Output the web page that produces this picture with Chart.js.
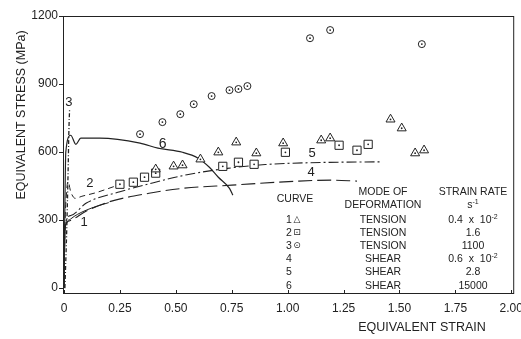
<!DOCTYPE html>
<html>
<head>
<meta charset="utf-8">
<script src="https://cdn.jsdelivr.net/npm/chart.js@4.4.1/dist/chart.umd.min.js"></script>
<style>
  html, body { margin: 0; padding: 0; background: #fff; }
  .wrap { position: relative; width: 521px; height: 339px; overflow: hidden; }
  .tbl { position: absolute; transform: translate(-50%, -50%); white-space: nowrap;
         font: 10.5px "Liberation Sans", Arial, sans-serif; color: #222; line-height: 1; }
  .tbl sup { font-size: 7px; vertical-align: 4px; }
  .sym { font-family: "DejaVu Sans", sans-serif; font-size: 9px; }
</style>
</head>
<body>
<div class="wrap">
  <canvas id="chart" width="521" height="339"></canvas>
  <div id="legend"></div>
</div>
<script>
// axis ticks
const xTicks = [0, 0.25, 0.5, 0.75, 1, 1.25, 1.5, 1.75, 2];
const yTicks = [0, 300, 600, 900, 1200];

// curve 1 markers (tension, 0.4e-2 /s)
const tri1Strain = [0.41, 0.49, 0.53, 0.61, 0.69, 0.77, 0.86, 0.98, 1.15, 1.19, 1.46, 1.51, 1.57, 1.61];
const tri1Stress = [524, 537, 542, 568, 599, 643, 595, 639, 652, 661, 744, 705, 595, 608];
// curve 2 markers (tension, 1.6 /s)
const sq2Strain = [0.25, 0.31, 0.36, 0.41, 0.71, 0.78, 0.85, 0.99, 1.23, 1.31, 1.36];
const sq2Stress = [458, 467, 489, 507, 537, 555, 546, 599, 630, 608, 634];
// curve 3 markers (tension, 1100 /s)
const circ3Strain = [0.34, 0.44, 0.52, 0.58, 0.66, 0.74, 0.78, 0.82, 1.10, 1.19, 1.60];
const circ3Stress = [679, 732, 767, 811, 847, 873, 878, 891, 1102, 1138, 1076];

// lines
const curve1Strain = [0, 0.004, 0.01, 0.03, 0.06, 0.1, 0.15, 0.2];
const curve1Stress = [0, 240, 285, 305, 325, 344, 362, 377];
const curve2Strain = [0, 0.004, 0.012, 0.018, 0.03, 0.05, 0.08, 0.14, 0.23];
const curve2Stress = [0, 260, 430, 470, 425, 396, 405, 420, 450];
const curve3Strain = [0.004, 0.012, 0.018, 0.022, 0.025];
const curve3Stress = [0, 250, 500, 700, 790];
const curve4Strain = [0, 0.004, 0.02, 0.1, 0.2, 0.38, 0.53, 0.75, 1.05, 1.2, 1.31];
const curve4Stress = [0, 260, 295, 340, 380, 418, 440, 454, 472, 476, 472];
const curve5Strain = [0, 0.004, 0.03, 0.1, 0.25, 0.4, 0.55, 0.73, 0.9, 1.1, 1.42];
const curve5Stress = [0, 270, 320, 375, 425, 465, 500, 528, 545, 553, 557];
const curve6Strain = [0, 0.008, 0.03, 0.053, 0.075, 0.16, 0.34, 0.42, 0.53, 0.6, 0.65, 0.69, 0.74, 0.755];
const curve6Stress = [0, 600, 674, 634, 661, 661, 639, 617, 599, 573, 533, 489, 440, 410];

// table rows
const rowCurve = ['1', '2', '3', '4', '5', '6'];
const rowSymbol = ['\u25B3', '\u22A1', '\u2299', '', '', ''];
const rowMode = ['TENSION', 'TENSION', 'TENSION', 'SHEAR', 'SHEAR', 'SHEAR'];
const rowRate = ['0.4 &nbsp;x &nbsp;10<sup>-2</sup>', '1.6', '1100', '0.6 &nbsp;x &nbsp;10<sup>-2</sup>', '2.8', '15000'];

const ink = '#222';
const pts = (xs, ys) => xs.map((v, i) => ({ x: v, y: ys[i] }));

function markerSet(xs, ys, style, r) {
  return {
    type: 'scatter', data: pts(xs, ys), pointStyle: style, pointRadius: r,
    pointBackgroundColor: '#fff', pointBorderColor: ink, pointBorderWidth: 1, order: 1
  };
}
function dotSet(xs, ys) {
  return {
    type: 'scatter', data: pts(xs, ys), pointStyle: 'circle', pointRadius: 0.9,
    pointBackgroundColor: ink, pointBorderWidth: 0, order: 0
  };
}
function lineSet(xs, ys, dash, w) {
  return {
    type: 'line', data: pts(xs, ys), borderColor: ink, borderWidth: w || 1,
    borderDash: dash, pointRadius: 0, cubicInterpolationMode: 'monotone', fill: false, order: 2
  };
}

const annot = {
  id: 'annot',
  afterDraw(chart) {
    const { ctx, chartArea: a, scales: { x, y } } = chart;
    ctx.save();
    ctx.strokeStyle = ink;
    ctx.lineWidth = 1;
    ctx.strokeRect(a.left + 0.5, a.top + 0.5, a.right - a.left - 1, a.bottom - a.top - 1);
    // inward x ticks
    xTicks.forEach(v => {
      const px = Math.round(x.getPixelForValue(v)) + 0.5;
      ctx.beginPath();
      ctx.moveTo(px, a.bottom);
      ctx.lineTo(px, a.bottom - 4);
      ctx.stroke();
    });
    ctx.fillStyle = ink;
    ctx.textAlign = 'center';
    ctx.textBaseline = 'middle';
    ctx.font = '12.5px "Liberation Sans", Arial, sans-serif';
    ctx.fillText('EQUIVALENT STRAIN', 422, 328);
    ctx.save();
    ctx.translate(22, 115);
    ctx.rotate(-Math.PI / 2);
    ctx.fillText('EQUIVALENT STRESS (MPa)', 0, 0);
    ctx.restore();
    // curve numbers
    ctx.font = '13px "Liberation Sans", Arial, sans-serif';
    [['1', 0.09, 291], ['2', 0.116, 463], ['3', 0.022, 819], ['4', 1.105, 511], ['5', 1.109, 595]]
      .forEach(([t, sx, sy]) => ctx.fillText(t, x.getPixelForValue(sx), y.getPixelForValue(sy)));
    ctx.font = '14px "Liberation Sans", Arial, sans-serif';
    ctx.fillText('6', x.getPixelForValue(0.441), y.getPixelForValue(634));
    ctx.restore();
  }
};

const tickFont = { family: '"Liberation Sans", Arial, sans-serif', size: 12 };

new Chart(document.getElementById('chart'), {
  data: {
    datasets: [
      lineSet(curve1Strain, curve1Stress, [], 1),
      lineSet(curve2Strain, curve2Stress, [6, 4], 1),
      lineSet(curve3Strain, curve3Stress, [4, 2, 1, 2], 1.3),
      lineSet(curve4Strain, curve4Stress, [14, 5], 1.1),
      lineSet(curve5Strain, curve5Stress, [10, 3, 2, 3], 1.1),
      lineSet(curve6Strain, curve6Stress, [], 1.2),
      markerSet(tri1Strain, tri1Stress, 'triangle', 5.2),
      markerSet(sq2Strain, sq2Stress, 'rect', 5.8),
      markerSet(circ3Strain, circ3Stress, 'circle', 3.5),
      dotSet(tri1Strain, tri1Stress),
      dotSet(sq2Strain, sq2Stress),
      dotSet(circ3Strain, circ3Stress)
    ]
  },
  options: {
    responsive: false,
    animation: false,
    layout: { padding: { top: 16, right: 5, left: 0, bottom: 0 } },
    plugins: { legend: { display: false }, tooltip: { enabled: false } },
    scales: {
      x: {
        type: 'linear', min: -0.0045, max: 2.013,
        afterBuildTicks: s => { s.ticks = xTicks.map(v => ({ value: v })); },
        afterFit: s => { s.height = 45; s.paddingLeft = 0; s.paddingRight = 0; },
        grid: { display: false, drawTicks: false },
        border: { display: false },
        ticks: {
          padding: 7, color: ink, font: tickFont, autoSkip: false, maxRotation: 0,
          callback: v => (v === 0 ? '0' : v.toFixed(2))
        }
      },
      y: {
        type: 'linear', min: -26, max: 1200,
        afterBuildTicks: s => { s.ticks = yTicks.map(v => ({ value: v })); },
        afterFit: s => { s.width = 63; s.paddingTop = 0; s.paddingBottom = 0; },
        grid: { drawOnChartArea: false, tickLength: 4, color: ink },
        border: { display: false },
        ticks: { padding: 1, color: ink, font: tickFont, callback: v => String(v) }
      }
    }
  },
  plugins: [annot]
});

// table of curves
const legend = document.getElementById('legend');
function put(html, cx, cy, cls) {
  const d = document.createElement('div');
  d.className = 'tbl' + (cls ? ' ' + cls : '');
  d.style.left = cx + 'px';
  d.style.top = cy + 'px';
  d.innerHTML = html;
  legend.appendChild(d);
}
put('CURVE', 295, 198);
put('MODE OF', 383, 191);
put('DEFORMATION', 383, 204);
put('STRAIN RATE', 473, 191);
put('s<sup>-1</sup>', 473, 204);
rowCurve.forEach((c, i) => {
  const cy = 219 + i * 13.1;
  put(c, 289, cy);
  if (rowSymbol[i]) put(rowSymbol[i], 297, cy, 'sym');
  put(rowMode[i], 383, cy);
  put(rowRate[i], 473, cy);
});
</script>
</body>
</html>
